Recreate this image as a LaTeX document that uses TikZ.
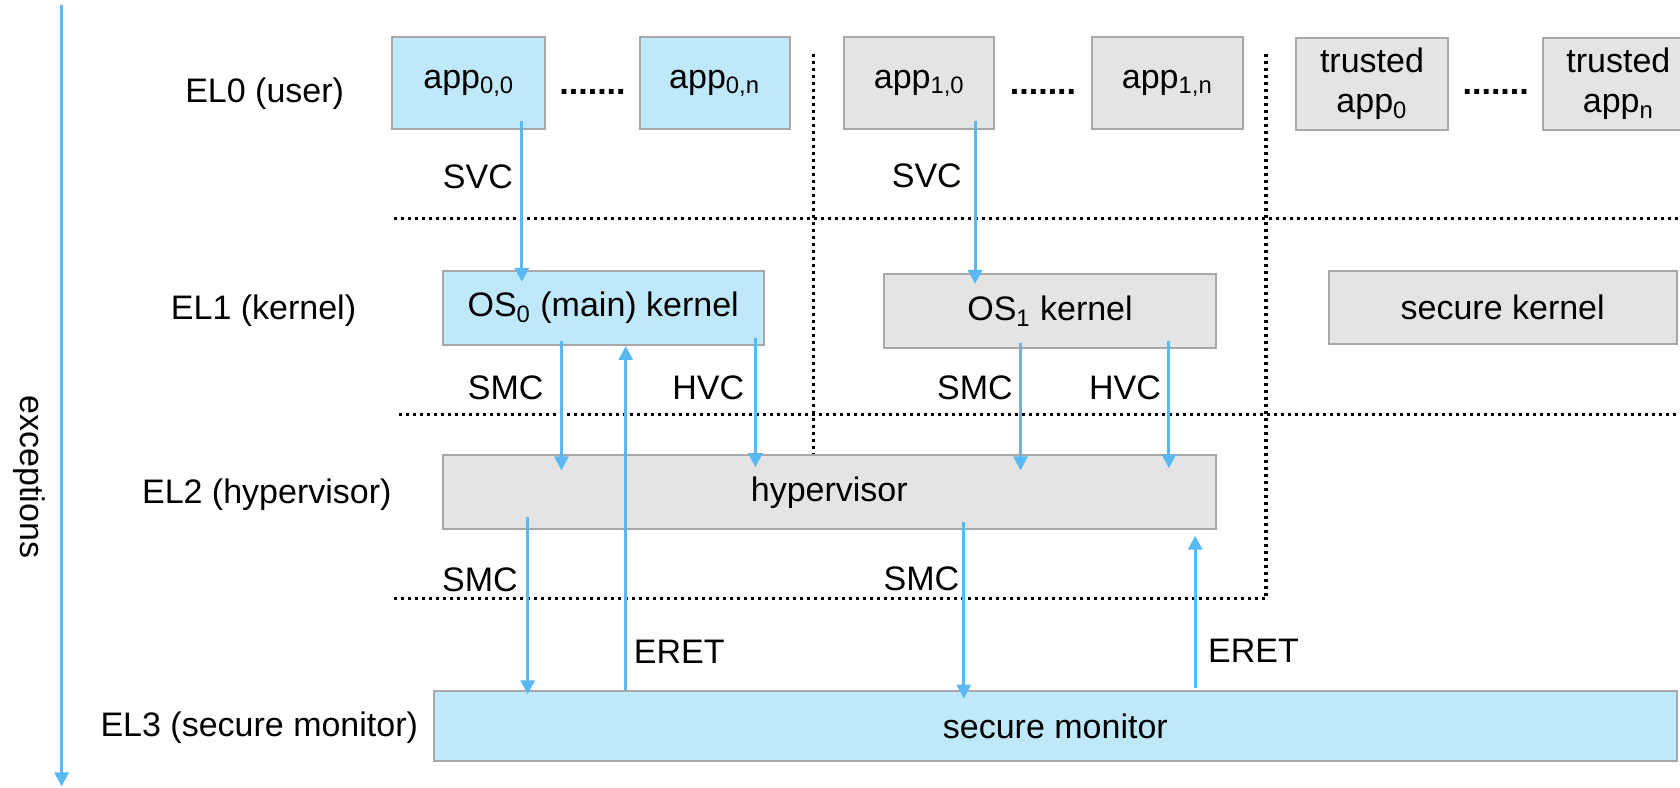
\documentclass[tikz,border=0pt]{standalone}
\usepackage{fontspec}
\setmainfont{Liberation Sans}
\usetikzlibrary{arrows.meta,calc}
\definecolor{userblue}{HTML}{C0E8FB}
\definecolor{restgray}{HTML}{E4E4E4}
\definecolor{edgegray}{HTML}{A8A8A8}
\definecolor{callblue}{HTML}{5AB9F5}
\newcommand{\upx}{0.5357pt}

\begin{document}
\begin{tikzpicture}[x=0.5357pt,y=-0.5357pt]
\tikzstyle{level}=[draw=edgegray,line width=1pt,inner sep=0pt,align=center,font=\fontsize{17}{20}\selectfont]
\tikzstyle{bluebox}=[level,fill=userblue]
\tikzstyle{graybox}=[level,fill=restgray]
\tikzstyle{call}=[draw=callblue,line width=1.5pt,-{Triangle[length=7pt,width=7pt]}]
\tikzstyle{sep}=[line width=1.6pt,dash pattern=on 1.6pt off 1.9pt]
\tikzstyle{lbl}=[font=\fontsize{17}{20}\selectfont,inner sep=0pt]
\clip (0,0) rectangle (1568,735);
% separators between the levels and worlds
\draw[sep] (367.5,204) -- (1568,204);
\draw[sep] (372.5,386.5) -- (1568,386.5);
\draw[sep] (759,50) -- (759,425);
\draw[sep] (1181.5,50) -- (1181.5,558.5) -- (367.5,558.5);
% level names
\node[lbl] (el0) at (247,87) {EL0 (user)};
\node[lbl] (el1) at (246,290) {EL1 (kernel)};
\node[lbl] (el2) at (249,462) {EL2 (hypervisor)};
\node[lbl] (el3) at (242,679) {EL3 (secure monitor)};
% EL0
\node[bluebox,minimum width=143*\upx,minimum height=85*\upx] (app00) at (437.5,77.5) {app\textsubscript{0,0}};
\node[lbl,font=\fontsize{17}{20}\selectfont\bfseries] (dots0) at (553,86) {.......};
\node[bluebox,minimum width=140*\upx,minimum height=85*\upx] (app0n) at (667,77.5) {app\textsubscript{0,n}};
\node[graybox,minimum width=140*\upx,minimum height=85*\upx] (app10) at (858,77.5) {app\textsubscript{1,0}};
\node[lbl,font=\fontsize{17}{20}\selectfont\bfseries] (dots1) at (973.5,86) {.......};
\node[graybox,minimum width=141*\upx,minimum height=85*\upx] (app1n) at (1089.5,77.5) {app\textsubscript{1,n}};
\node[graybox,minimum width=141*\upx,minimum height=86*\upx] (tapp0) at (1280.5,78.5) {trusted\\app\textsubscript{0}};
\node[lbl,font=\fontsize{17}{20}\selectfont\bfseries] (dots2) at (1396,86) {.......};
\node[graybox,minimum width=141*\upx,minimum height=86*\upx] (tappn) at (1510.5,78.5) {trusted\\app\textsubscript{n}};
% EL1
\node[bluebox,minimum width=300*\upx,minimum height=69*\upx] (os0) at (563,287.5) {OS\textsubscript{0} (main) kernel};
\node[graybox,minimum width=310*\upx,minimum height=69*\upx] (os1) at (980,290.5) {OS\textsubscript{1} kernel};
\node[graybox,minimum width=325*\upx,minimum height=68*\upx] (seckern) at (1402.5,287) {secure kernel};
% EL2 and EL3
\node[graybox,minimum width=722*\upx,minimum height=69*\upx] (hyp) at (774,459.5) {hypervisor};
\node[bluebox,minimum width=1160*\upx,minimum height=65*\upx] (secmon) at (985,677.5) {secure monitor};
% calls and returns
\draw[call] ($(app00.south)+(49.5,-8)$) -- ($(os0.north)+(-76,11)$);
\draw[call] ($(app10.south)+(52,-8)$) -- ($(os1.north)+(-70,10)$);
\draw[call] ($(os0.south)+(-39,-5)$) -- ($(hyp.north)+(-250,15)$);
\draw[call] ($(os0.south)+(142,-7)$) -- ($(hyp.north)+(-69,12)$);
\draw[call] ($(os1.south)+(-27.5,-6)$) -- ($(hyp.north)+(178.5,15)$);
\draw[call] ($(os1.south)+(111,-8)$) -- ($(hyp.north)+(317,13)$);
\draw[call] ($(hyp.south)+(-281.5,-12)$) -- ($(secmon.north)+(-492.5,4)$);
\draw[call] ($(hyp.south)+(125.5,-8)$) -- ($(secmon.north)+(-85.5,8)$);
\draw[call] ($(secmon.north)+(-401,0)$) -- ($(os0.south)+(21,0)$);
\draw[call] ($(secmon.north)+(130.5,-2)$) -- ($(hyp.south)+(341.5,5)$);
\node[lbl] (svc0) at (446,165) {SVC};
\node[lbl] (svc1) at (865,164) {SVC};
\node[lbl] (smc0) at (472,362) {SMC};
\node[lbl] (hvc0) at (661,362) {HVC};
\node[lbl] (smc1) at (910,362) {SMC};
\node[lbl] (hvc1) at (1050,362) {HVC};
\node[lbl] (smc2) at (448,541) {SMC};
\node[lbl] (smc3) at (860,540) {SMC};
\node[lbl] (eret0) at (634,608) {ERET};
\node[lbl] (eret1) at (1170,607) {ERET};
% exception direction
\coordinate (exctop) at (57.5,5);
\coordinate (excbot) at (57.5,734);
\draw[call] (exctop) -- (excbot);
\node[lbl,rotate=-90] (exc) at (27.5,445) {exceptions};
\end{tikzpicture}
\end{document}
